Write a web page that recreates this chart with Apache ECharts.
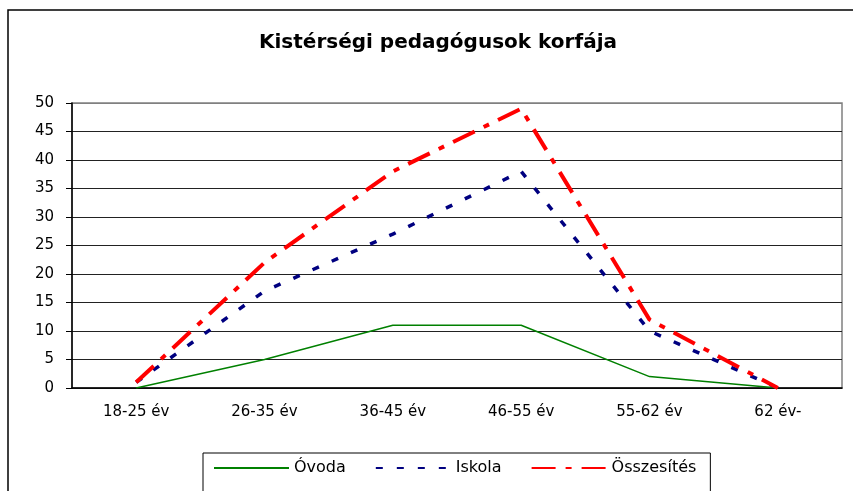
<!DOCTYPE html>
<html>
<head>
<meta charset="utf-8">
<title>Kistérségi pedagógusok korfája</title>
<script src="https://cdn.jsdelivr.net/npm/echarts@6/dist/echarts.min.js"></script>
<style>
html,body{margin:0;padding:0;background:#fff;}
#main{width:853px;height:491px;}
</style>
</head>
<body>
<div id="main"></div>
<script>
/*数据*/
var categories=['18-25 év','26-35 év','36-45 év','46-55 év','55-62 év','62 év-'];
var ovoda=[0,5,11,11,2,0];
var iskola=[1,17,27,38,10,0];
var osszesites=[1,22,38,49,12,0];
var yTicks=[0,5,10,15,20,25,30,35,40,45,50];

!function(){
    var myChart=echarts.init(document.getElementById('main'));
    var font='"DejaVu Sans", "Liberation Sans", sans-serif';
    /*分割线：最上面那条是灰色*/
    var splitColors=yTicks.map(function(v,i){return i==yTicks.length-1?'#808080':'#222';});
    var option={
        animation:false,
        title:{
            text:'Kistérségi pedagógusok korfája',
            left:433,
            textAlign:'center',
            top:28,
            textStyle:{fontFamily:font,fontSize:20,fontWeight:'bold',color:'#000'}
        },
        graphic:[{
            type:'rect',
            shape:{x:8,y:10,width:900,height:600},
            style:{fill:'none',stroke:'#000',lineWidth:1.5},
            silent:true
        }],
        grid:{
            left:72,top:103,width:770,height:285,
            show:true,borderColor:'#808080',borderWidth:1.5,
            containLabel:false
        },
        legend:{
            left:203,top:453,
            padding:[7,14,20,10],
            borderColor:'#000',borderWidth:1,
            itemWidth:75,itemHeight:14,itemGap:29,
            itemStyle:{opacity:0},
            textStyle:{fontFamily:font,fontSize:16,color:'#000'},
            data:['Óvoda','Iskola','Összesítés']
        },
        xAxis:{
            type:'category',
            data:categories,
            axisLine:{lineStyle:{color:'#000',width:1.5}},
            axisTick:{length:5,lineStyle:{color:'#000'}},
            axisLabel:{margin:17,fontFamily:font,fontSize:15,color:'#000'}
        },
        yAxis:{
            type:'value',
            min:yTicks[0],max:yTicks[yTicks.length-1],interval:5,
            axisLine:{show:true,lineStyle:{color:'#000',width:1.5}},
            axisTick:{show:true,length:6,lineStyle:{color:'#000'}},
            axisLabel:{margin:18,fontFamily:font,fontSize:15,color:'#000'},
            splitLine:{lineStyle:{color:splitColors,width:1.2}}
        },
        series:[
            {
                name:'Óvoda',type:'line',data:ovoda,
                symbol:'none',
                lineStyle:{color:'#008000',width:1.5}
            },
            {
                name:'Iskola',type:'line',data:iskola,
                symbol:'none',
                lineStyle:{color:'#000080',width:3.5,type:[7,14]}
            },
            {
                name:'Összesítés',type:'line',data:osszesites,
                symbol:'none',
                lineStyle:{color:'#ff0000',width:4,type:[24,10,6,10]}
            }
        ],
        color:['#008000','#000080','#ff0000']
    };
    myChart.setOption(option);
}();
</script>
</body>
</html>
